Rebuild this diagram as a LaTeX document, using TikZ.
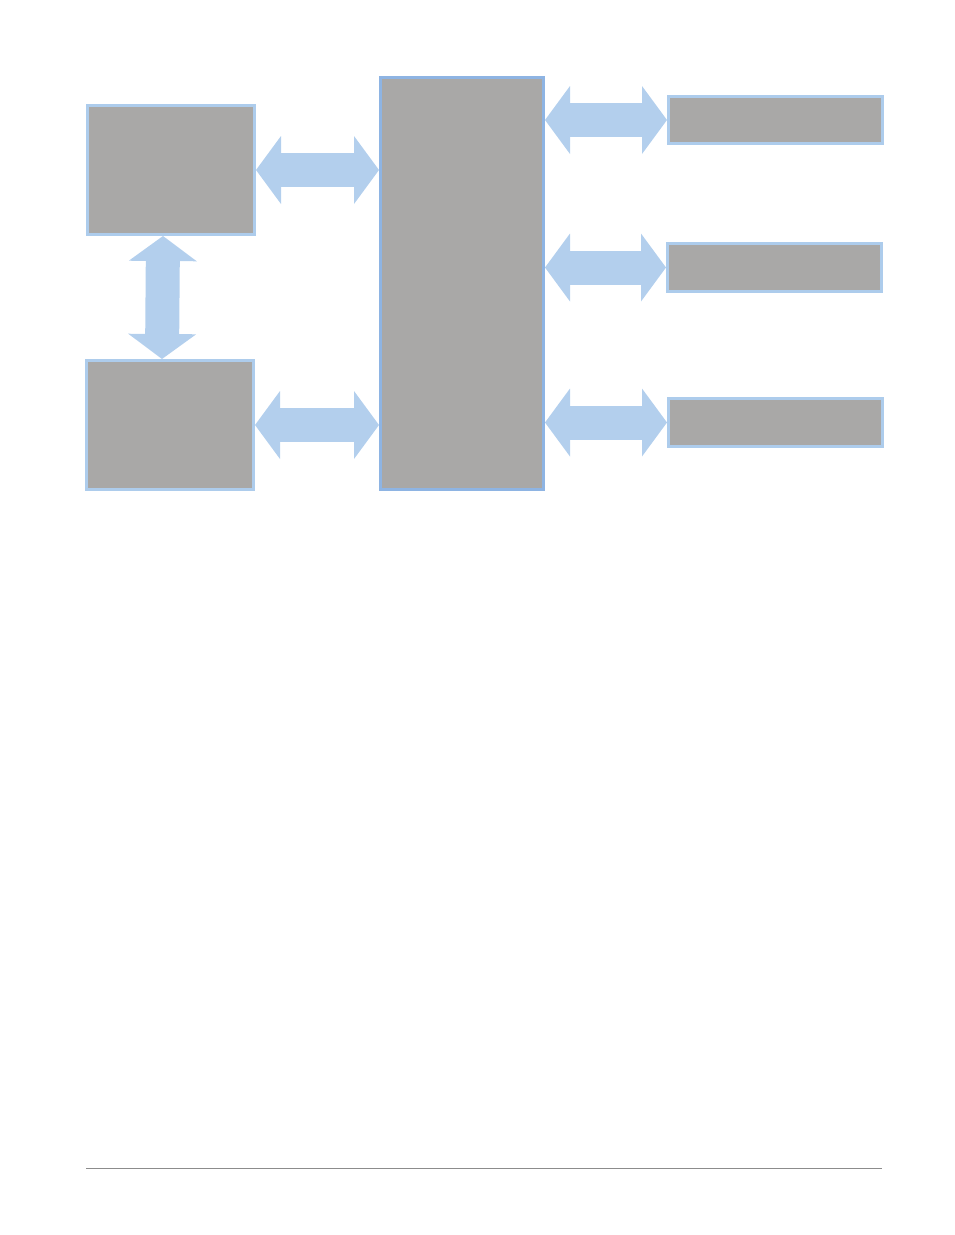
\documentclass[tikz,border=0pt]{standalone}
\usepackage{xcolor}
\usetikzlibrary{arrows.meta}

\definecolor{boxgray}{HTML}{A9A8A7}
\definecolor{edgeblue}{HTML}{ADCCEC}
\definecolor{coreblue}{HTML}{8EB4E3}
\definecolor{arrowblue}{HTML}{B3CFED}
\definecolor{rulegray}{HTML}{8C8C8C}

\tikzset{
  block/.style={rectangle, inner sep=0pt, fill=boxgray, draw=edgeblue, line width=3pt},
  bigtip/.tip={Triangle[width=68pt, length=25pt, line width=0pt]},
  link/.style={draw=arrowblue, line width=34pt, bigtip-bigtip}
}

\begin{document}
\begin{tikzpicture}[x=1pt, y=-1pt]
            \useasboundingbox (0,0) rectangle (954,1235);

            \node [block, minimum width=167pt, minimum height=129pt] (mem) at (171,170) {};
            \node [block, minimum width=167pt, minimum height=129pt] (disk) at (170,425) {};
            \node [block, draw=coreblue, minimum width=163pt, minimum height=412pt] (cpu) at (462,283.5) {};

            \node [block, minimum width=214pt, minimum height=47pt] (dev1) at (775.5,120) {};
            \node [block, minimum width=214pt, minimum height=48pt] (dev2) at (774.5,267.5) {};
            \node [block, minimum width=214pt, minimum height=48pt] (dev3) at (775.5,422.5) {};

            %\draw [link] (mem) -- (cpu);
            \draw [link] (mem.east) -- (mem.east -| cpu.west);
            \draw [link] (disk.east) -- (disk.east -| cpu.west);
            \draw [link] ([xshift=-8pt]mem.south) -- ([xshift=-8pt]disk.north);

            \draw [link] (dev1.west -| cpu.east) -- (dev1.west);
            \draw [link] (dev2.west -| cpu.east) -- (dev2.west);
            \draw [link] (dev3.west -| cpu.east) -- (dev3.west);

            \coordinate (footl) at (86,1168);
            \coordinate (footr) at (882,1168);
            \draw [rulegray, line width=1pt] (footl) -- (footr);

        \end{tikzpicture}
\end{document}
